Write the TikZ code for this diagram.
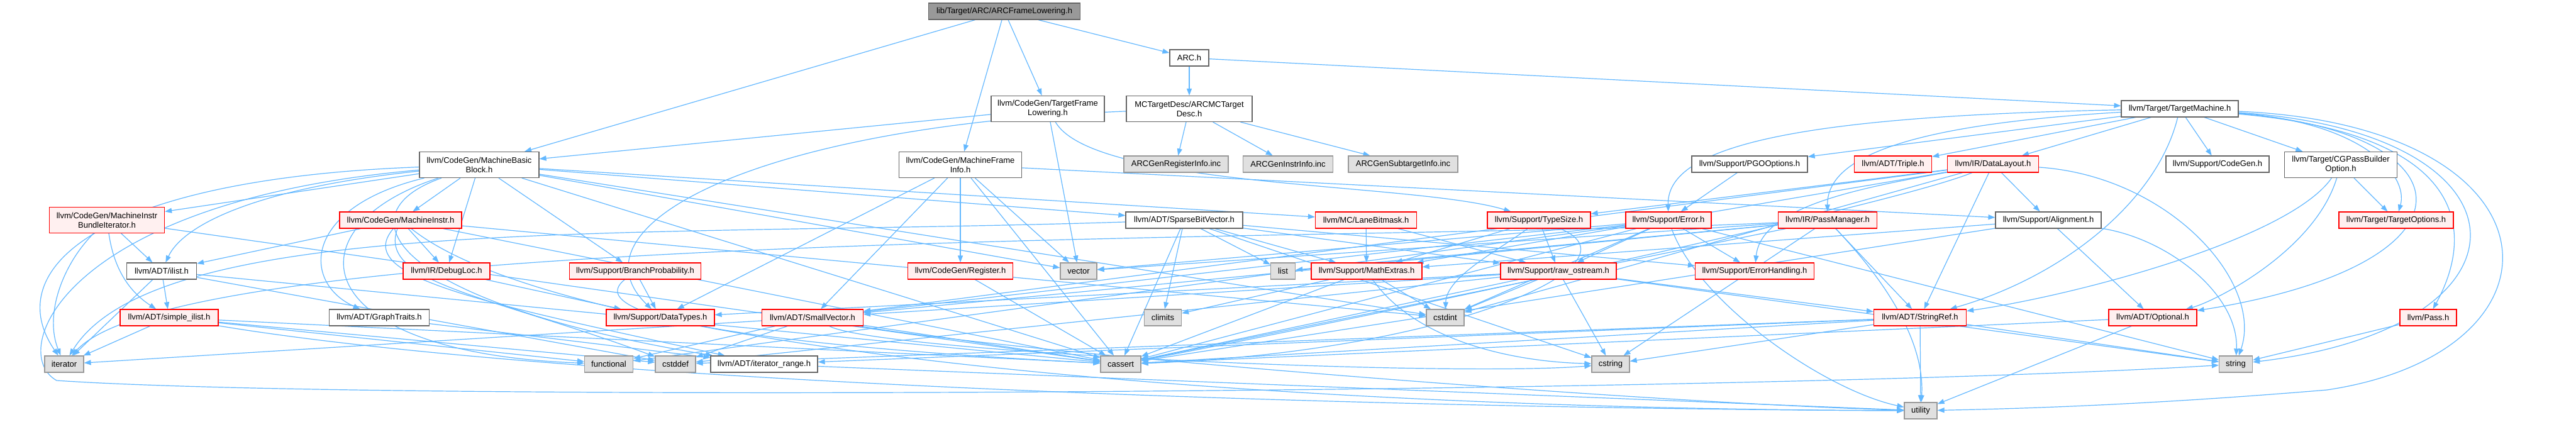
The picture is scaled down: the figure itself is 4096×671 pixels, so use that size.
\documentclass[tikz,border=0pt]{standalone}
\usepackage{fontspec}
\setmainfont{Liberation Sans}
\usetikzlibrary{arrows.meta}
\definecolor{edgeblue}{HTML}{63B8FF}
\definecolor{redb}{HTML}{FF0000}
\definecolor{redf}{HTML}{FFF0F0}
\definecolor{grayb}{HTML}{999999}
\definecolor{grayf}{HTML}{E0E0E0}
\definecolor{darkb}{HTML}{666666}
\definecolor{topf}{HTML}{999999}
\pgfdeclarelayer{bg}
\pgfdeclarelayer{edgelayer}
\pgfsetlayers{bg,edgelayer,main}
\begin{document}
\begin{tikzpicture}[x=1pt,y=-1pt,
  box/.style={draw, rectangle, line width=1.2pt, inner sep=0pt, minimum height=26pt,
    font=\fontsize{13}{15}\selectfont, align=center},
  redbox/.style={box, draw=redb, fill=redf},
  sysbox/.style={box, draw=grayb, fill=grayf},
  plainbox/.style={box, draw=darkb, fill=white},
  topbox/.style={box, draw=darkb, fill=topf},
  tall/.style={minimum height=41pt},
  dep/.style={draw=edgeblue, line width=1.2pt, -{Triangle[length=11pt,width=8pt]}}]
\begin{pgfonlayer}{bg}
\fill[white] (0,0) rectangle (4096,671);
\end{pgfonlayer}
\useasboundingbox (0,0) rectangle (4096,671);

% row 0-2
\node[topbox, minimum width=241pt] (top) at (1597,18) {lib/Target/ARC/ARCFrameLowering.h};
\node[plainbox, minimum width=62pt] (arc) at (1891,92) {ARC.h};
\node[plainbox, minimum width=186pt] (tm) at (3466,173) {llvm/Target/TargetMachine.h};
\node[plainbox, tall, minimum width=180pt] (tfl) at (1666,173) {llvm/CodeGen/TargetFrame\\Lowering.h};
\node[plainbox, tall, minimum width=200pt] (mctd) at (1891,173) {MCTargetDesc/ARCMCTarget\\Desc.h};
% row 3
\node[plainbox, tall, minimum width=190pt] (mbb) at (762,262) {llvm/CodeGen/MachineBasic\\Block.h};
\node[plainbox, tall, minimum width=195pt] (mfi) at (1527,262) {llvm/CodeGen/MachineFrame\\Info.h};
\node[sysbox, minimum width=166pt] (genreg) at (1870,261) {ARCGenRegisterInfo.inc};
\node[sysbox, minimum width=143pt] (geninstr) at (2048,261) {ARCGenInstrInfo.inc};
\node[sysbox, minimum width=174pt] (gensub) at (2231,261) {ARCGenSubtargetInfo.inc};
\node[plainbox, minimum width=184pt] (pgo) at (2782,261) {llvm/Support/PGOOptions.h};
\node[redbox, minimum width=123pt] (triple) at (3010,261) {llvm/ADT/Triple.h};
\node[redbox, minimum width=145pt] (dl) at (3169,261) {llvm/IR/DataLayout.h};
\node[plainbox, minimum width=164pt] (cg) at (3526,261) {llvm/Support/CodeGen.h};
\node[plainbox, tall, minimum width=179pt] (cgpb) at (3722,262) {llvm/Target/CGPassBuilder\\Option.h};
% row 4
\node[redbox, tall, minimum width=183pt] (mibi) at (170,350) {llvm/CodeGen/MachineInstr\\BundleIterator.h};
\node[redbox, minimum width=194pt] (mi) at (637,350) {llvm/CodeGen/MachineInstr.h};
\node[plainbox, minimum width=186pt] (sbv) at (1883,350) {llvm/ADT/SparseBitVector.h};
\node[redbox, minimum width=161pt] (lane) at (2172,350) {llvm/MC/LaneBitmask.h};
\node[redbox, minimum width=164pt] (ts) at (2447,350) {llvm/Support/TypeSize.h};
\node[redbox, minimum width=136pt] (err) at (2653,350) {llvm/Support/Error.h};
\node[redbox, minimum width=157pt] (pm) at (2906,350) {llvm/IR/PassManager.h};
\node[plainbox, minimum width=168pt] (align) at (3257,350) {llvm/Support/Alignment.h};
\node[redbox, minimum width=182pt] (topt) at (3810,350) {llvm/Target/TargetOptions.h};
% row 5
\node[plainbox, minimum width=111pt] (ilist) at (257,431) {llvm/ADT/ilist.h};
\node[redbox, minimum width=138pt] (dbg) at (710,431) {llvm/IR/DebugLoc.h};
\node[redbox, minimum width=209pt] (bp) at (1010,431) {llvm/Support/BranchProbability.h};
\node[redbox, minimum width=167pt] (reg) at (1527,431) {llvm/CodeGen/Register.h};
\node[sysbox, minimum width=58pt] (vector) at (1715,431) {vector};
\node[sysbox, minimum width=39pt] (list) at (2040,431) {list};
\node[redbox, minimum width=176pt] (math) at (2173,431) {llvm/Support/MathExtras.h};
\node[redbox, minimum width=184pt] (ros) at (2478,431) {llvm/Support/raw\_ostream.h};
\node[redbox, minimum width=189pt] (eh) at (2790,431) {llvm/Support/ErrorHandling.h};
% row 6
\node[redbox, minimum width=156pt] (sil) at (269,505) {llvm/ADT/simple\_ilist.h};
\node[plainbox, minimum width=159pt] (gt) at (603,505) {llvm/ADT/GraphTraits.h};
\node[redbox, minimum width=172pt] (dt) at (1050,505) {llvm/Support/DataTypes.h};
\node[redbox, minimum width=161pt] (sv) at (1292,505) {llvm/ADT/SmallVector.h};
\node[sysbox, minimum width=59pt] (climits) at (1849,505) {climits};
\node[sysbox, minimum width=60pt] (cstdint) at (2298,505) {cstdint};
\node[redbox, minimum width=147pt] (sref) at (3053,505) {llvm/ADT/StringRef.h};
\node[redbox, minimum width=140pt] (opt) at (3423,505) {llvm/ADT/Optional.h};
\node[redbox, minimum width=90pt] (pass) at (3861,505) {llvm/Pass.h};
% row 7
\node[sysbox, minimum width=62pt] (iterator) at (102,579) {iterator};
\node[sysbox, minimum width=77pt] (functional) at (968,579) {functional};
\node[sysbox, minimum width=64pt] (cstddef) at (1074,579) {cstddef};
\node[plainbox, minimum width=170pt] (itrange) at (1215,579) {llvm/ADT/iterator\_range.h};
\node[sysbox, minimum width=64pt] (cassert) at (1782,579) {cassert};
\node[sysbox, minimum width=60pt] (cstring) at (2561,579) {cstring};
\node[sysbox, minimum width=53pt] (string) at (3555,579) {string};
% row 8
\node[sysbox, minimum width=52pt] (utility) at (3054,653) {utility};

\begin{pgfonlayer}{edgelayer}
% top
\draw[dep] (top) -- (mbb);
\draw[dep] (top) -- (mfi);
\draw[dep] (top) -- (tfl);
\draw[dep] (top) -- (arc);
% ARC.h
\draw[dep] (arc) -- (mctd);
\draw[dep] (arc) -- (tm);
% TargetFrameLowering
\draw[dep] (tfl) -- (mbb);
\draw[dep] (tfl) .. controls (1740,300) and (2250,290) .. (ts);
\draw[dep] (tfl) -- (vector);
% MCTargetDesc
\draw[dep] (mctd) .. controls (1200,200) and (900,360) .. (dt);
\draw[dep] (mctd) -- (genreg);
\draw[dep] (mctd) -- (geninstr);
\draw[dep] (mctd) -- (gensub);
% MachineFrameInfo
\draw[dep] (mfi) -- (sv);
\draw[dep] (mfi) -- (reg);
\draw[dep] (mfi) -- (align);
\draw[dep] (mfi) -- (dt);
\draw[dep] (mfi) -- (cassert);
\draw[dep] (mfi) -- (vector);
% MachineBasicBlock
\draw[dep] (mbb) .. controls (480,330) and (480,450) .. (gt);
\draw[dep] (mbb) -- (sbv);
\draw[dep] (mbb) .. controls (400,300) and (290,360) .. (ilist);
\draw[dep] (mbb) .. controls (540,340) and (620,480) .. (itrange);
\draw[dep] (mbb) -- (mi);
\draw[dep] (mbb) -- (mibi);
\draw[dep] (mbb) -- (dbg);
\draw[dep] (mbb) -- (lane);
\draw[dep] (mbb) -- (bp);
\draw[dep] (mbb) -- (cassert);
\draw[dep] (mbb) -- (cstdint);
\draw[dep] (mbb) .. controls (460,360) and (480,560) .. (functional);
\draw[dep] (mbb) .. controls (150,285) and (0,430) .. (iterator);
\draw[dep] (mbb) .. controls (100,320) and (10,560) .. (90,605) .. controls (600,640) and (2800,625) .. (string);
\draw[dep] (mbb) -- (vector);
% TargetMachine
\draw[dep] (tm) -- (pgo);
\draw[dep] (tm) -- (triple);
\draw[dep] (tm) -- (dl);
\draw[dep] (tm) -- (cg);
\draw[dep] (tm) -- (cgpb);
\draw[dep] (tm) .. controls (2820,185) and (2650,240) .. (err);
\draw[dep] (tm) .. controls (3000,200) and (2905,260) .. (pm);
\draw[dep] (tm) .. controls (3760,195) and (3830,280) .. (topt);
\draw[dep] (tm) .. controls (3930,210) and (3960,420) .. (opt);
\draw[dep] (tm) .. controls (3940,215) and (3930,380) .. (pass);
\draw[dep] (tm) .. controls (4040,210) and (4050,520) .. (string);
\draw[dep] (tm) .. controls (4085,200) and (4100,560) .. (3700,620) .. controls (3400,645) and (3200,650) .. (utility);
\draw[dep] (tm) .. controls (3430,320) and (3280,440) .. (sref);
% CGPassBuilderOption
\draw[dep] (cgpb) .. controls (3680,400) and (3520,480) .. (opt);
\draw[dep] (cgpb) .. controls (3640,380) and (3300,470) .. (sref);
\draw[dep] (cgpb) -- (topt);
% PGOOptions
\draw[dep] (pgo) -- (err);
% DataLayout
\draw[dep] (dl) -- (sv);
\draw[dep] (dl) -- (sref);
\draw[dep] (dl) -- (align);
\draw[dep] (dl) .. controls (2950,300) and (2800,330) .. (eh);
\draw[dep] (dl) -- (math);
\draw[dep] (dl) -- (ts);
\draw[dep] (dl) .. controls (3000,330) and (2100,520) .. (cassert);
\draw[dep] (dl) -- (cstdint);
\draw[dep] (dl) .. controls (3450,280) and (3600,450) .. (string);
% MachineInstrBundleIterator
\draw[dep] (mibi) -- (ilist);
\draw[dep] (mibi) .. controls (180,420) and (200,460) .. (sil);
\draw[dep] (mibi) -- (cassert);
\draw[dep] (mibi) .. controls (100,420) and (70,500) .. (iterator);
% MachineInstr
\draw[dep] (mi) -- (ilist);
\draw[dep] (mi) -- (dbg);
\draw[dep] (mi) .. controls (560,440) and (760,480) .. (itrange);
\draw[dep] (mi) -- (cassert);
\draw[dep] (mi) .. controls (600,450) and (780,470) .. (cstddef);
\draw[dep] (mi) -- (cstdint);
\draw[dep] (mi) .. controls (900,560) and (2000,650) .. (utility);
% SparseBitVector
\draw[dep] (sbv) -- (eh);
\draw[dep] (sbv) -- (math);
\draw[dep] (sbv) -- (ros);
\draw[dep] (sbv) -- (cassert);
\draw[dep] (sbv) -- (climits);
\draw[dep] (sbv) -- (cstring);
\draw[dep] (sbv) .. controls (1000,378) and (250,340) .. (iterator);
\draw[dep] (sbv) -- (list);
% LaneBitmask
\draw[dep] (lane) -- (math);
\draw[dep] (lane) -- (ros);
% TypeSize
\draw[dep] (ts) -- (math);
\draw[dep] (ts) -- (ros);
\draw[dep] (ts) .. controls (2380,400) and (2300,440) .. (cstdint);
\draw[dep] (ts) .. controls (2620,420) and (2300,560) .. (cassert);
% Error
\draw[dep] (err) -- (sv);
\draw[dep] (err) -- (eh);
\draw[dep] (err) -- (ros);
\draw[dep] (err) -- (cassert);
\draw[dep] (err) -- (cstdint);
\draw[dep] (err) -- (functional);
\draw[dep] (err) -- (string);
\draw[dep] (err) .. controls (2700,480) and (2900,620) .. (utility);
\draw[dep] (err) -- (vector);
% PassManager
\draw[dep] (pm) -- (sv);
\draw[dep] (pm) -- (sref);
\draw[dep] (pm) -- (cassert);
\draw[dep] (pm) -- (cstring);
\draw[dep] (pm) .. controls (2200,385) and (300,360) .. (iterator);
\draw[dep] (pm) -- (list);
\draw[dep] (pm) .. controls (3020,470) and (3060,560) .. (utility);
\draw[dep] (pm) -- (vector);
% Alignment
\draw[dep] (align) -- (opt);
\draw[dep] (align) -- (math);
\draw[dep] (align) -- (cassert);
\draw[dep] (align) .. controls (3450,380) and (3560,470) .. (string);
% ilist
\draw[dep] (ilist) -- (sil);
\draw[dep] (ilist) -- (cassert);
\draw[dep] (ilist) -- (cstddef);
\draw[dep] (ilist) -- (iterator);
% simple_ilist
\draw[dep] (sil) -- (cassert);
\draw[dep] (sil) -- (cstddef);
\draw[dep] (sil) -- (functional);
\draw[dep] (sil) -- (iterator);
\draw[dep] (sil) .. controls (900,610) and (2200,650) .. (utility);
% misc
\draw[dep] (gt) -- (itrange);
\draw[dep] (itrange) -- (utility);
\draw[dep] (dbg) -- (dt);
\draw[dep] (bp) -- (dt);
\draw[dep] (bp) .. controls (900,520) and (1400,560) .. (cassert);
\draw[dep] (reg) -- (cassert);
% MathExtras
\draw[dep] (math) -- (cassert);
\draw[dep] (math) -- (climits);
\draw[dep] (math) -- (cstdint);
\draw[dep] (math) .. controls (2250,540) and (2400,575) .. (cstring);
% raw_ostream
\draw[dep] (ros) -- (sv);
\draw[dep] (ros) -- (sref);
\draw[dep] (ros) -- (dt);
\draw[dep] (ros) -- (cassert);
\draw[dep] (ros) -- (cstddef);
\draw[dep] (ros) -- (cstdint);
\draw[dep] (ros) -- (cstring);
\draw[dep] (ros) -- (string);
% SmallVector
\draw[dep] (sv) -- (cassert);
\draw[dep] (sv) -- (cstddef);
\draw[dep] (sv) .. controls (1400,560) and (2300,600) .. (cstring);
\draw[dep] (sv) -- (functional);
\draw[dep] (sv) -- (iterator);
\draw[dep] (sv) .. controls (1600,560) and (2600,640) .. (utility);
% StringRef
\draw[dep] (sref) -- (itrange);
\draw[dep] (sref) -- (cassert);
\draw[dep] (sref) -- (cstddef);
\draw[dep] (sref) -- (cstring);
\draw[dep] (sref) -- (string);
\draw[dep] (sref) -- (utility);
% Optional
\draw[dep] (opt) -- (cassert);
\draw[dep] (opt) -- (utility);
% Pass
\draw[dep] (pass) -- (string);
\end{pgfonlayer}
\end{tikzpicture}
\end{document}
